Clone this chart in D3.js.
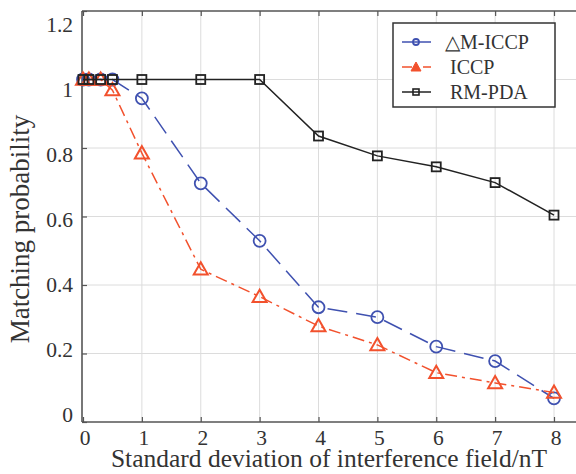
<!DOCTYPE html>
<html>
<head>
<meta charset="utf-8">
<script src="https://cdn.jsdelivr.net/npm/d3@7"></script>
<style>
  html, body { margin: 0; padding: 0; background: #fff; }
  svg { display: block; }
</style>
</head>
<body>
<svg id="chart" width="576" height="474"></svg>
<script>
// Interference standard deviation (nT)
const xValues = [0, 0.1, 0.3, 0.5, 1, 2, 3, 4, 5, 6, 7, 8];

// Matching probability for each method
const dmIccp = [1, 1, 1, 1, 0.945, 0.697, 0.529, 0.335, 0.306, 0.22, 0.178, 0.069];
const iccp   = [1, 1, 1, 0.969, 0.785, 0.446, 0.366, 0.28, 0.225, 0.144, 0.114, 0.086];
const rmPda  = [1, 1, 1, 1, 1, 1, 1, 0.835, 0.777, 0.745, 0.699, 0.604];

const xTicks = [0, 1, 2, 3, 4, 5, 6, 7, 8];
const yTicks = [0, 0.2, 0.4, 0.6, 0.8, 1, 1.2];
const seriesNames = ["\u25B3M-ICCP", "ICCP", "RM-PDA"];

const FONT = '"Liberation Serif"';
const TEXT_COLOR = "#333";

const svg = d3.select("#chart");
const plotLeft = 82, plotTop = 11, plotBottom = 422, plotRight = 580;

const x = d3.scaleLinear().domain([0, 8]).range([83, 554]);
const y = d3.scaleLinear().domain([0, 1.2]).range([plotBottom, plotTop]);
// the y tick labels sit on a slightly tighter column than the ticks themselves
const yLabel = d3.scaleLinear().domain([0, 1.2]).range([415, 25]);

// grid
const grid = svg.append("g").attr("stroke", "#dcdcdc").attr("stroke-width", 1);
xTicks.slice(1).forEach(t => grid.append("line")
  .attr("x1", x(t)).attr("x2", x(t)).attr("y1", plotTop).attr("y2", plotBottom));
yTicks.slice(1, -1).forEach(t => grid.append("line")
  .attr("x1", plotLeft).attr("x2", plotRight).attr("y1", y(t)).attr("y2", y(t)));

// axes (ticks point inward)
const axisColor = "#555";
const xAxis = svg.append("g").attr("transform", `translate(0,${plotBottom})`)
  .call(d3.axisBottom(x).tickValues(xTicks).tickSize(-5).tickPadding(8).tickFormat(d3.format("d")));
const xTop = svg.append("g").attr("transform", `translate(0,${plotTop})`)
  .call(d3.axisTop(x).tickValues(xTicks).tickSize(-5).tickFormat(""));
const yAxis = svg.append("g").attr("transform", `translate(${plotLeft},0)`)
  .call(d3.axisLeft(y).tickValues(yTicks).tickSize(-5).tickPadding(9)
    .tickFormat(d => d === 0 ? "0" : d === 1 ? "1" : d3.format(".1f")(d)));
[xAxis, xTop, yAxis].forEach(g => {
  g.attr("font-family", null);
  g.select(".domain").remove();
  g.selectAll("line").attr("stroke", axisColor).attr("stroke-width", 1.2);
  g.selectAll("text").attr("fill", TEXT_COLOR)
    .style("font-family", FONT).style("font-size", "21.5px");
});
xAxis.selectAll("text").attr("dx", 1.5);
yAxis.selectAll("text").attr("y", d => yLabel(d) - y(d));

svg.append("line").attr("x1", plotLeft).attr("x2", plotRight).attr("y1", plotBottom).attr("y2", plotBottom)
  .attr("stroke", axisColor).attr("stroke-width", 1.6);
svg.append("line").attr("x1", plotLeft).attr("x2", plotRight).attr("y1", plotTop).attr("y2", plotTop)
  .attr("stroke", axisColor).attr("stroke-width", 1.4);
svg.append("line").attr("x1", plotLeft).attr("x2", plotLeft).attr("y1", plotTop).attr("y2", plotBottom)
  .attr("stroke", axisColor).attr("stroke-width", 1.6);

// axis titles
svg.append("text").attr("x", 329).attr("y", 467).attr("text-anchor", "middle")
  .attr("fill", TEXT_COLOR).style("font-family", FONT).style("font-size", "25.5px")
  .text("Standard deviation of interference field/nT");
svg.append("text").attr("transform", "translate(29,229) rotate(-90)")
  .attr("text-anchor", "middle").attr("fill", TEXT_COLOR)
  .style("font-family", FONT).style("font-size", "27px")
  .text("Matching probability");

// series
const series = [
  { name: seriesNames[0], values: dmIccp, color: "#3f51b0", dash: "20,9", marker: "circle" },
  { name: seriesNames[1], values: iccp, color: "#f2512d", dash: "12,5,3,5", marker: "triangle" },
  { name: seriesNames[2], values: rmPda, color: "#222", dash: null, marker: "square" }
];

const line = d3.line().x(d => x(d[0])).y(d => y(d[1]));

function drawMarker(g, type, cx, cy, color) {
  if (type === "circle") {
    g.append("circle").attr("cx", cx).attr("cy", cy).attr("r", 6)
      .attr("fill", "none").attr("stroke", color).attr("stroke-width", 1.8);
  } else if (type === "triangle") {
    const s = 7;
    g.append("path").attr("d", `M${cx},${cy - s}L${cx + s},${cy + s * 0.75}L${cx - s},${cy + s * 0.75}Z`)
      .attr("fill", "none").attr("stroke", color).attr("stroke-width", 2);
  } else {
    g.append("rect").attr("x", cx - 4.5).attr("y", cy - 4.5).attr("width", 9).attr("height", 9)
      .attr("fill", "none").attr("stroke", color).attr("stroke-width", 1.8);
  }
}

series.forEach(s => {
  const pts = xValues.map((v, i) => [v, s.values[i]]);
  const g = svg.append("g");
  g.append("path").attr("d", line(pts)).attr("fill", "none")
    .attr("stroke", s.color).attr("stroke-width", 1.5)
    .attr("stroke-dasharray", s.dash);
  pts.forEach(p => drawMarker(g, s.marker, x(p[0]), y(p[1]), s.color));
});

// legend
const lg = svg.append("g");
lg.append("rect").attr("x", 393).attr("y", 23).attr("width", 162).attr("height", 84)
  .attr("fill", "#fff").attr("stroke", "#333").attr("stroke-width", 1.5);
const legendY = [42, 67, 92];
series.forEach((s, i) => {
  const cy = legendY[i];
  lg.append("line").attr("x1", 402).attr("x2", 431).attr("y1", cy).attr("y2", cy)
    .attr("stroke", s.color).attr("stroke-width", 1.5)
    .attr("stroke-dasharray", s.marker === "triangle" ? "10,4,3,4" : null);
  if (s.marker === "circle") {
    lg.append("circle").attr("cx", 416).attr("cy", cy).attr("r", 3)
      .attr("fill", "none").attr("stroke", s.color).attr("stroke-width", 1.8);
  } else if (s.marker === "triangle") {
    lg.append("path").attr("d", `M416,${cy - 5}L421,${cy + 4}L411,${cy + 4}Z`)
      .attr("fill", s.color).attr("stroke", s.color).attr("stroke-width", 1);
  } else {
    lg.append("rect").attr("x", 413).attr("y", cy - 3).attr("width", 6).attr("height", 6)
      .attr("fill", "none").attr("stroke", s.color).attr("stroke-width", 1.6);
  }
  lg.append("text").attr("x", i === 0 ? 445 : 450).attr("y", cy).attr("dy", "0.35em")
    .attr("fill", TEXT_COLOR).style("font-family", FONT).style("font-size", "20px")
    .text(s.name);
});
</script>
</body>
</html>
